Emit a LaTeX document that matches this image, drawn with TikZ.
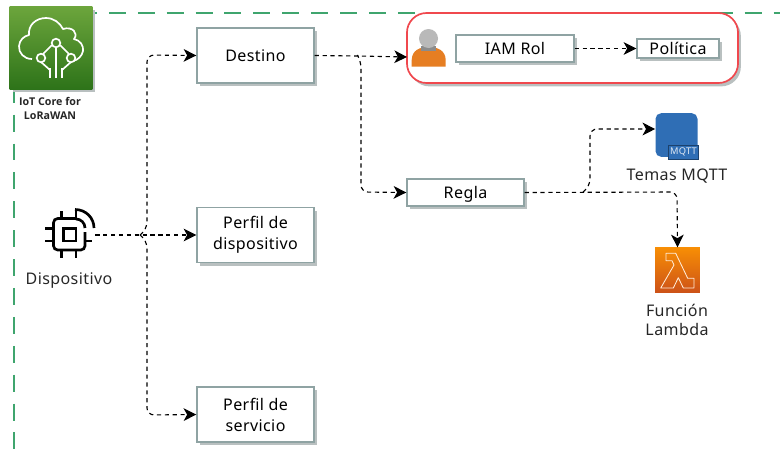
\documentclass[tikz,border=0pt]{standalone}
\usepackage{fontspec}
\setmainfont[LetterSpace=2.5]{Noto Sans}
\newfontfamily\rotulo{Open Sans}
\usepackage{tikz}
\usetikzlibrary{arrows.meta,shadows}

\definecolor{borde}{HTML}{8FA3A3}
\definecolor{sombra}{HTML}{B9C0C0}
\definecolor{marco}{HTML}{3FA56E}
\definecolor{rojo}{HTML}{F0484E}
\definecolor{azul}{HTML}{2F6EB5}
\definecolor{naranja}{HTML}{E67E22}

\tikzset{
  caja/.style={draw=borde,line width=1pt,fill=white,align=center,font=\fontsize{11.4}{15}\selectfont,
    drop shadow={shadow xshift=2.4pt,shadow yshift=-2.4pt,fill=sombra,opacity=1}},
  unalinea/.style={text depth=0.5pt},
  texto/.style={align=center,text=black!85,font=\fontsize{11.4}{14}\selectfont},
  flecha/.style={line width=0.8pt,dash pattern=on 3pt off 2.6pt,rounded corners=5pt,
    -{Stealth[length=9pt,width=9pt,inset=2.5pt]}},
  borde marco/.style={draw=marco,line width=1.5pt,dash pattern=on 12.05pt off 8.5pt},
  icono/.style={inner sep=0pt,minimum width=#1,minimum height=#1},
  blanco/.style={draw=white,line width=1.2pt,line join=round},
  chip/.style={draw=black,line width=1.9pt}
}

\begin{document}
\begin{tikzpicture}[x=0.025cm,y=-0.025cm]
\useasboundingbox (0,0) rectangle (780,455);

% marco verde
\draw[borde marco] (80,13)--(780,13);
\draw[borde marco] (14,85.7)--(14,455);

% IoT Core
\node[icono=2.05cm,fill=white,
  drop shadow={shadow xshift=2pt,shadow yshift=-2pt,fill=sombra,opacity=1}] (iot) at (51,48) {};
\fill[top color={rgb,255:red,108;green,165;blue,60},bottom color={rgb,255:red,45;green,115;blue,25}] (iot.north west) rectangle (iot.south east);
\draw[blanco] (32,59) .. controls (24,59) and (18.5,53) .. (19,46) .. controls (19.5,40) and (24,36) .. (29,35)
  .. controls (28,25) and (36,18) .. (46,18) .. controls (54,18) and (60,23) .. (63,29)
  .. controls (72,26) and (79,33) .. (74,39) .. controls (80,40) and (84,46) .. (83,51) .. controls (82,56) and (78,60) .. (73,61);
\draw[blanco] (56,47)--(56,78) (50,78)--(50,68) (62,78)--(62,68);
\draw[blanco] (52,45)--(43,54) (60,45)--(69,54) (41,62)--(50,70) (71,62)--(62,70);
\draw[blanco,fill={rgb,255:red,80;green,140;blue,45}] (56,43) circle (4.3) (41,58) circle (4.3) (71,58) circle (4.3);
\node[align=center,font=\rotulo\fontsize{7.6}{9.6}\selectfont\bfseries,text=black!85] (iotlabel) at (50,108.5) {IoT Core for\\LoRaWAN};

% Dispositivo
\node[icono=1.35cm] (disp) at (68,235) {};
\draw[chip,rounded corners=3pt] (53.5,218.5) rectangle (85,250);
\draw[chip] (63.5,228.5) rectangle (76,241);
\draw[chip] (61.5,211)--(61.5,218) (76,211)--(76,218) (61.5,250)--(61.5,258) (76,250)--(76,258)
  (45,228.5)--(53,228.5) (45,241)--(53,241) (85,241)--(92,241);
\fill[white] (77,214) rectangle (95,232);
\draw[chip] (75,209.5) .. controls (86,209.5) and (94,218) .. (94,228);
\draw[chip] (76,219) .. controls (81,219) and (85,223) .. (85,228);
\draw[chip] (76,217)--(76,211);
\node[texto] (displabel) at (69,281) {Dispositivo};

% cajas
\node[caja,unalinea,minimum width=2.925cm,minimum height=1.375cm] (destino) at (255.5,55.5) {Destino};
\node[caja,minimum width=2.925cm,minimum height=1.375cm] (perfildisp) at (255.5,235) {Perfil de\\dispositivo};
\node[caja,minimum width=2.925cm,minimum height=1.375cm] (perfilserv) at (255.5,414.5) {Perfil de\\servicio};
\node[caja,unalinea,minimum width=2.925cm,minimum height=0.675cm] (regla) at (465.5,192.5) {Regla};

% grupo IAM
\node[draw=rojo,line width=1.2pt,fill=white,rounded corners=14pt,minimum width=8.275cm,minimum height=1.75cm,
  drop shadow={shadow xshift=2pt,shadow yshift=-2.4pt,fill=sombra,opacity=1}] (grupo) at (572.5,48) {};
\node[caja,unalinea,minimum width=2.95cm,minimum height=0.675cm] (iamrol) at (515,48.5) {IAM Rol};
\node[caja,unalinea,inner sep=0pt,minimum width=2.05cm,minimum height=0.475cm] (politica) at (678,48.5) {Política};

% persona
\node[icono=0.9cm] (persona) at (428.5,48) {};
\fill[naranja] (411.7,66.5) -- (411.7,60) .. controls (412,50) and (420,47) .. (428.5,47)
  .. controls (437,47) and (445.5,50) .. (445.7,60) -- (445.7,66.5) -- cycle;
\fill[black!45] (421,46) rectangle (436,51);
\fill[gray!55] (428.5,38.5) circle (9.5);

% MQTT
\node[icono=1.05cm,fill=azul,rounded corners=4pt,minimum height=1.09cm] (mqtt) at (676.5,135) {};
\node[fill=azul,draw=azul!60!black,line width=0.4pt,text=white!85!azul,inner sep=0pt,minimum width=0.75cm,minimum height=0.35cm,
  font=\fontsize{6.6}{7}\selectfont\bfseries] (mqtttag) at (683.5,152) {MQTT};
\node[texto] (mqttlabel) at (677,176) {Temas MQTT};

% Lambda
\node[icono=1.12cm,top color={rgb,255:red,247;green,142;blue,5},bottom color={rgb,255:red,205;green,82;blue,24}] (lambda) at (677.5,270) {};
\draw[draw=white!85!orange,line width=0.6pt,line join=round] (666,253.3)--(666,260.7)--(672,260.7)--(674,265)--(660.7,288)--(673.3,288)
  --(678.3,277.7)--(683.3,288)--(694,288)--(694,278.3)--(687.7,278.3)--(675.7,253.3)--cycle;
\node[texto] (lambdalabel) at (677,320) {Función\\Lambda};

% conectores
\coordinate (jdisp) at (140,235);
\coordinate (jarriba) at (147,55);
\coordinate (jabajo) at (147,415);
\coordinate (jdest) at (358,56);
\coordinate (jregla) at (361,192);
\coordinate (entrada) at (407,57);
\coordinate (jsal) at (583,192);
\coordinate (jmqtt) at (590,129);
\coordinate (jlambda) at (677,192);
\draw[flecha] (disp.east)--(perfildisp.west);
\draw[flecha] (jdisp)--(147,229)--(jarriba)--(destino.west);
\draw[flecha] (jdisp)--(147,241)--(jabajo)--(perfilserv.west);
\draw[flecha] (destino.east)--(jdest)--(entrada);
\draw[flecha] (jdest)--(361,61)--(jregla)--(regla.west);
\draw[flecha] (iamrol.east)--(politica.west);
\draw[flecha] (regla.east)--(jlambda)--(lambda.north);
\draw[flecha] (jsal)--(590,186)--(jmqtt)--(mqtt.west |- jmqtt);
\end{tikzpicture}
\end{document}
